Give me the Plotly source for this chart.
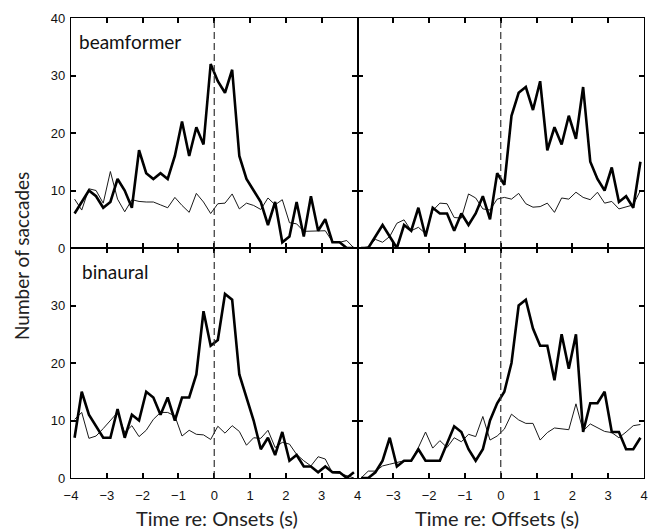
import plotly.graph_objects as go

# ---- data -----------------------------------------------------------------
TIME_BINS = [-3.9, -3.7, -3.5, -3.3, -3.1, -2.9, -2.7, -2.5, -2.3, -2.1,
             -1.9, -1.7, -1.5, -1.3, -1.1, -0.9, -0.7, -0.5, -0.3, -0.1,
             0.1, 0.3, 0.5, 0.7, 0.9, 1.1, 1.3, 1.5, 1.7, 1.9,
             2.1, 2.3, 2.5, 2.7, 2.9, 3.1, 3.3, 3.5, 3.7, 3.9]

BEAM_ONSET_THICK = [6, 8, 10, 9, 7, 8, 12, 10, 7, 17,
                    13, 12, 13, 12, 16, 22, 16, 21, 18, 32,
                    29, 27, 31, 16, 12, 10, 8, 4, 8, 1,
                    2, 8, 2, 9, 3, 5, 1, 1, 0, 0]
BEAM_ONSET_THIN = [8.5, 6.6, 10.3, 10, 7.8, 13.3, 8.5, 6.3, 8.4, 8.1,
                   8, 8, 7.5, 7, 8.8, 7.4, 6.2, 9.5, 8, 6,
                   7.7, 7.8, 9.4, 6.8, 7.8, 7.4, 6.7, 8.7, 7.5, 8.4,
                   4.4, 4.2, 2.9, 2.9, 2.9, 3, 1.1, 1, 1.3, 0]

BEAM_OFFSET_THICK = [0, 0, 2, 4, 2, 0, 4, 3, 7, 2,
                     7, 6, 6, 3, 6, 4, 6, 9, 5, 13,
                     11, 23, 27, 28, 24, 29, 17, 21, 18, 23,
                     19, 28, 15, 12, 10, 14, 8, 9, 7, 15]
BEAM_OFFSET_THIN = [0, 0.2, 1.5, 1, 2, 4.3, 4.9, 3, 3.6, 2.5,
                    6.5, 7.8, 7.7, 5.3, 5.2, 9.4, 8.7, 6.8, 6.6, 8.5,
                    8.8, 8.5, 9.5, 7.7, 7.1, 7.2, 7.8, 6.2, 8.7, 8.5,
                    9.7, 8.8, 8.4, 9.7, 7.8, 8.1, 6.8, 7.2, 7.5, 10]

BIN_ONSET_THICK = [7, 15, 11, 9, 7, 7, 12, 7, 11, 10,
                   15, 14, 11, 14, 10, 14, 14, 18, 29, 23,
                   24, 32, 31, 18, 14, 10, 5, 7, 4, 8,
                   3, 4, 2, 2, 1, 2, 1, 1, 0, 1]
BIN_ONSET_THIN = [10.2, 11.4, 6.9, 7.3, 8.6, 10, 11.4, 7.9, 9.1, 7.2,
                  8.3, 10.2, 11.4, 11.4, 10.8, 7.3, 8.3, 7.6, 7.5, 6.7,
                  9, 7.8, 9.1, 8.1, 5.7, 7, 6.9, 8.3, 5.3, 6.2,
                  5.9, 4.1, 3, 2.1, 3.7, 3.3, 0.9, 0.8, 0.4, 0]

BIN_OFFSET_THICK = [0, 0, 1, 3, 7, 2, 3, 3, 5, 3,
                    3, 3, 6, 9, 8, 5, 3, 5, 10, 13,
                    15, 20, 30, 31, 26, 23, 23, 17, 25, 19,
                    25, 8, 13, 13, 15, 8, 8, 5, 5, 7]
BIN_OFFSET_THIN = [0, 1.2, 1.2, 2.1, 2.4, 2.7, 3, 3, 5.3, 8,
                   5.2, 6.5, 5.3, 7, 6.3, 7.6, 7.2, 10.7, 6.6, 7.3,
                   8.5, 11.1, 10.1, 9.5, 9.5, 6.6, 7.9, 8.7, 8.6, 8.4,
                   12.9, 8.2, 9.4, 8.8, 8.1, 7.9, 7, 8, 9.1, 9.3]

EVENT_TIME = 0
X_RANGE = [-4, 4]
Y_RANGE = [0, 40]
X_TICKS_LEFT = [-4, -3, -2, -1, 0, 1, 2, 3, 4]
X_TICKS_RIGHT = [-3, -2, -1, 0, 1, 2, 3, 4]
Y_TICKS_TOP = [0, 10, 20, 30, 40]
Y_TICKS_BOTTOM = [0, 10, 20, 30]
PANEL_LABELS = ["beamformer", "binaural"]
X_TITLES = ["Time re: Onsets (s)", "Time re: Offsets (s)"]
Y_TITLE = "Number of saccades"

# ---- figure ----------------------------------------------------------------
fig = go.Figure()

panels = [
    (1, BEAM_ONSET_THICK, BEAM_ONSET_THIN),
    (2, BEAM_OFFSET_THICK, BEAM_OFFSET_THIN),
    (3, BIN_ONSET_THICK, BIN_ONSET_THIN),
    (4, BIN_OFFSET_THICK, BIN_OFFSET_THIN),
]

for idx, thick, thin in panels:
    xa = "x" if idx == 1 else f"x{idx}"
    ya = "y" if idx == 1 else f"y{idx}"
    fig.add_trace(go.Scatter(x=TIME_BINS, y=thin, mode="lines", xaxis=xa, yaxis=ya,
                             line=dict(color="#1a1a1a", width=1), showlegend=False))
    fig.add_trace(go.Scatter(x=TIME_BINS, y=thick, mode="lines", xaxis=xa, yaxis=ya,
                             line=dict(color="black", width=2.6), showlegend=False))
    fig.add_shape(type="line", xref=xa, yref=f"{ya} domain",
                  x0=EVENT_TIME, x1=EVENT_TIME, y0=0, y1=1,
                  line=dict(color="#333333", width=1.2, dash="7px,4px"))

axis_common = dict(showline=True, linecolor="black", linewidth=1.3, mirror="ticks",
                   ticks="inside", ticklen=5, tickwidth=1.5, tickcolor="black",
                   showgrid=False, zeroline=False,
                   tickfont=dict(family="Liberation Sans", size=13, color="#111111"))

domains = {1: ([0, 0.5], [0.5, 1]), 2: ([0.5, 1], [0.5, 1]),
           3: ([0, 0.5], [0, 0.5]), 4: ([0.5, 1], [0, 0.5])}
layout = {}
for idx, (dx, dy) in domains.items():
    xk = "xaxis" if idx == 1 else f"xaxis{idx}"
    yk = "yaxis" if idx == 1 else f"yaxis{idx}"
    xanchor = "y" if idx == 1 else f"y{idx}"
    yanchor = "x" if idx == 1 else f"x{idx}"
    xt = X_TICKS_RIGHT if idx in (2, 4) else X_TICKS_LEFT
    yt = Y_TICKS_TOP if idx in (1, 2) else Y_TICKS_BOTTOM
    layout[xk] = dict(axis_common, domain=dx, anchor=xanchor, range=X_RANGE,
                      tickmode="array", tickvals=xt,
                      showticklabels=idx in (3, 4), ticklabelstandoff=5)
    layout[yk] = dict(axis_common, domain=dy, anchor=yanchor, range=Y_RANGE,
                      tickmode="array", tickvals=yt,
                      showticklabels=idx in (1, 3), ticklabelstandoff=2)
fig.update_layout(**layout)

annotations = [
    dict(text=PANEL_LABELS[0], xref="x domain", yref="y domain", x=0.02, y=0.9,
         xanchor="left", yanchor="middle", showarrow=False,
         font=dict(family="Lato", size=19, color="#111111")),
    dict(text=PANEL_LABELS[1], xref="x3 domain", yref="y3 domain", x=0.03, y=0.9,
         xanchor="left", yanchor="middle", showarrow=False,
         font=dict(family="Lato", size=19, color="#111111")),
    dict(text=X_TITLES[0], xref="paper", yref="paper", x=0.2548, y=0, yshift=-40,
         xanchor="center", yanchor="middle", showarrow=False,
         font=dict(family="Lato", size=20, color="#222222")),
    dict(text=X_TITLES[1], xref="paper", yref="paper", x=0.7435, y=0, yshift=-40,
         xanchor="center", yanchor="middle", showarrow=False,
         font=dict(family="Lato", size=20, color="#222222")),
    dict(text=Y_TITLE, xref="paper", yref="paper", x=0, xshift=-50, y=0.5, yshift=-8,
         xanchor="center", yanchor="middle", textangle=-90, showarrow=False,
         font=dict(family="Lato", size=19, color="#222222")),
]

fig.update_layout(width=650, height=530, margin=dict(l=71, r=2, t=18, b=52),
                  paper_bgcolor="white", plot_bgcolor="white",
                  annotations=annotations, showlegend=False)

fig.write_html("out.html", config={"displayModeBar": False},
               post_script="document.body.style.margin='0';document.body.style.padding='0';")
